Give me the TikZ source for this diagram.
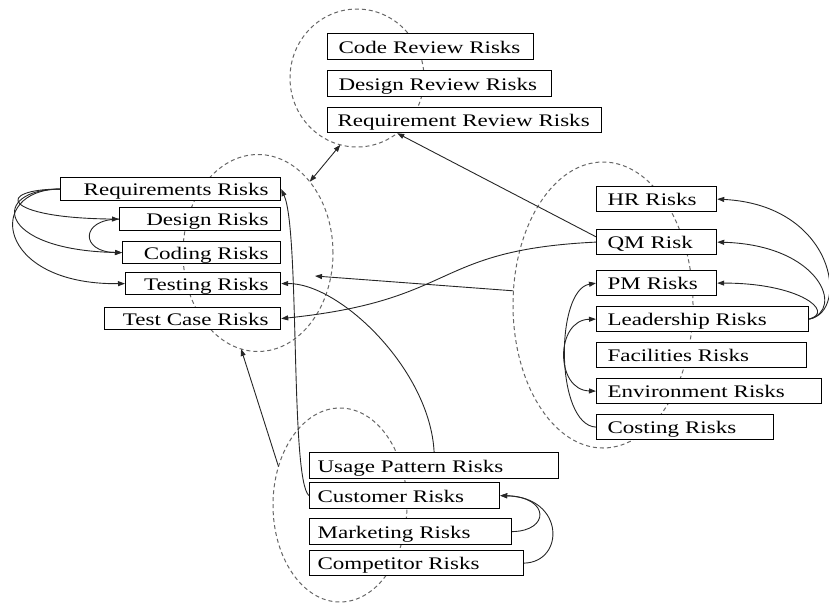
\documentclass[tikz,border=0pt]{standalone}
\usepackage{fontspec}
\setmainfont{Liberation Serif}[FakeStretch=1.3]
\usetikzlibrary{arrows.meta,shapes.geometric}

\begin{document}
\begin{tikzpicture}[x=1pt,y=-1pt,
  box/.style={draw=black, line width=1.2pt, fill=white, rectangle, inner ysep=0pt,
    anchor=north west, font=\fontsize{17.7pt}{20pt}\selectfont,
    text height=14pt, text depth=1pt},
  lbox/.style={box, inner xsep=11pt, align=left},
  bbox/.style={box, inner xsep=8pt, align=left},
  rbox/.style={box, inner xsep=12pt, align=right},
  cluster/.style={ellipse, draw=black!60, dash pattern=on 4pt off 3pt,
    line width=1pt, inner sep=0pt, outer sep=0pt},
  tip/.tip={Triangle[length=7pt,width=5pt]},
  link/.style={draw=black!85, line width=0.9pt, -tip},
  twoway/.style={draw=black!85, line width=0.9pt, tip-tip},
]
\useasboundingbox (0,0) rectangle (829,603);

% dashed cluster outlines
\node[cluster, minimum width=134pt, minimum height=138pt] (T) at (357,78) {};
\node[cluster, minimum width=150pt, minimum height=197pt] (L) at (258,253) {};
\node[cluster, minimum width=180pt, minimum height=286pt] (R) at (603,305) {};
\node[cluster, minimum width=134pt, minimum height=194pt] (B) at (340,505) {};
\coordinate (Lin) at (315,276);

% review risks
\node[lbox, text width=184pt, minimum height=26pt] (CR) at (327,33) {Code Review Risks};
\node[lbox, text width=202pt, minimum height=26pt] (DR) at (327,70) {Design Review Risks};
\node[lbox, inner xsep=10pt, text width=254pt, minimum height=25pt] (RR) at (327,107) {Requirement Review Risks};

% development risks
\node[rbox, text width=196pt, minimum height=23pt] (Req) at (60,177) {Requirements Risks};
\node[rbox, text width=137pt, minimum height=23pt] (Des) at (119,207) {Design Risks};
\node[rbox, text width=134pt, minimum height=22pt] (Cod) at (122,241) {Coding Risks};
\node[rbox, text width=131pt, minimum height=22pt] (Tst) at (125,272) {Testing Risks};
\node[rbox, text width=152pt, minimum height=22pt] (TC) at (104,307) {Test Case Risks};

% management risks
\node[lbox, text width=98pt, minimum height=25pt] (HR) at (596,186) {HR Risks};
\node[lbox, text width=98pt, minimum height=25pt] (QM) at (596,229) {QM Risk};
\node[lbox, text width=98pt, minimum height=25pt] (PM) at (596,270) {PM Risks};
\node[lbox, text width=190pt, minimum height=25pt] (Lead) at (596,306) {Leadership Risks};
\node[lbox, text width=188pt, minimum height=25pt] (Fac) at (596,342) {Facilities Risks};
\node[lbox, text width=203pt, minimum height=25pt] (Env) at (596,378) {Environment Risks};
\node[lbox, text width=155pt, minimum height=25pt] (Cost) at (596,414) {Costing Risks};

% market risks
\node[bbox, text width=233pt, minimum height=26pt] (UP) at (309,452) {Usage Pattern Risks};
\node[bbox, text width=174pt, minimum height=26pt] (Cust) at (309,482) {Customer Risks};
\node[bbox, text width=186pt, minimum height=26pt] (Mkt) at (309,518) {Marketing Risks};
\node[bbox, text width=198pt, minimum height=25pt] (Comp) at (309,550) {Competitor Risks};

% links between clusters
\draw[twoway] (T.256) -- (L.54);
\draw[link] (R.171) -- (Lin);
\draw[link] (B.148) -- (L.260);
\draw[link] (QM.175) -- (RR.191);
\draw[link] (QM.west) .. controls (430,250) and (460,300) .. (TC.east);
\draw[link] (UP.north) .. controls (430,370) and (340,283) .. (Tst.east);
\draw[link] (Cust.west) .. controls (290,480) and (300,230) .. (Req.east);

% development cluster
\draw[link] (Req.west) .. controls (-5,189) and (0,218) .. (Des.west);
\draw[link] (Req.west) .. controls (-10,189) and (-5,250) .. (Cod.west);
\draw[link] (Req.west) .. controls (-15,189) and (-5,285) .. (Tst.west);
\draw[link] (Des.west) .. controls (80,219) and (80,252) .. (Cod.west);

% management cluster
\draw[link] (Lead.east) .. controls (850,312) and (835,205) .. (HR.east);
\draw[link] (Lead.east) .. controls (845,310) and (820,245) .. (QM.east);
\draw[link] (Lead.east) .. controls (835,312) and (800,283) .. (PM.east);
\draw[link] (Cost.west) .. controls (555,425) and (555,290) .. (PM.west);
\draw[twoway] (Lead.west) .. controls (555,320) and (555,390) .. (Env.west);

% market cluster
\draw[link] (Mkt.east) .. controls (550,531) and (550,497) .. (Cust.east);
\draw[link] (Comp.east) .. controls (565,562) and (565,497) .. (Cust.east);
\end{tikzpicture}
\end{document}
